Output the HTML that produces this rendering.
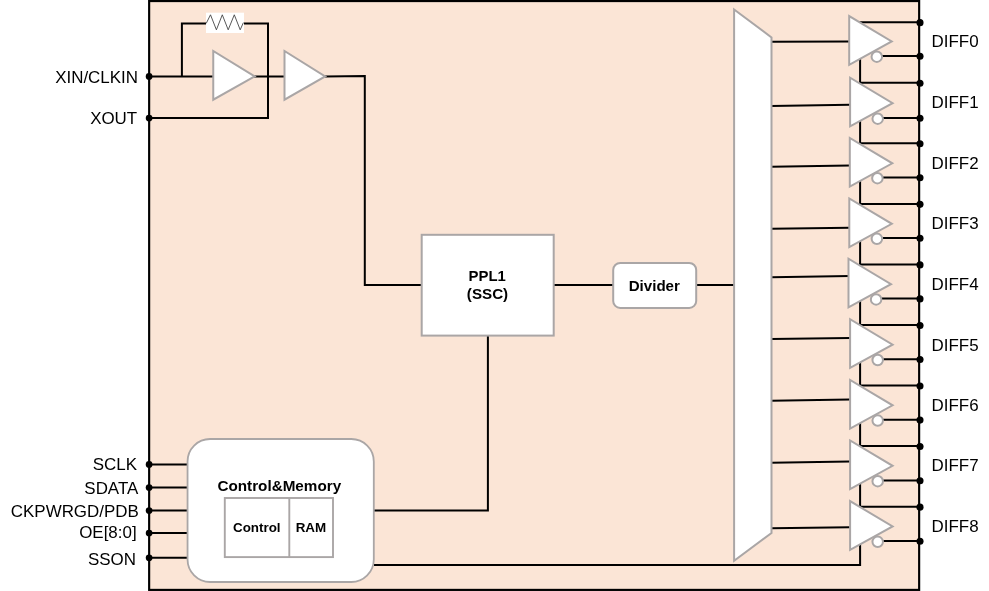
<!DOCTYPE html>
<html lang="en"><head><meta charset="utf-8"><title>Clock generator block diagram</title>
<style>
html,body{margin:0;padding:0;background:#fff;}
svg{display:block;}
text{font-family:"Liberation Sans",Arial,Helvetica,sans-serif;fill:#000;}
.w{fill:none;stroke:#000;stroke-width:2.0;stroke-linejoin:miter;stroke-linecap:butt;}
.g{fill:#fff;stroke:#aaa6a6;stroke-width:2.0;stroke-linejoin:miter;}
.d{fill:#000;}
.lb{font-size:16.95px;}
.b{font-weight:bold;font-size:14.8px;}
.bs{font-weight:bold;font-size:13.4px;}
.bt{font-weight:bold;font-size:15.25px;}
</style></head><body>
<svg width="989" height="591" viewBox="0 0 989 591">
<rect x="149.15" y="1.05" width="770.0" height="588.85" fill="#fbe5d6" stroke="#000" stroke-width="2.15"/>
<path class="w" d="M149 76.5H214"/>
<path class="w" d="M254 76.5H285"/>
<path class="w" d="M181.9 76.5V23.4H206.5"/>
<path class="w" d="M243.5 23.4H268V118.1H149"/>
<path class="w" d="M325 76.5L364.8 75.9V285H422"/>
<path class="w" d="M554 285H613"/>
<path class="w" d="M696 285H734"/>
<path class="w" d="M487.9 336V510.6H374"/>
<path class="w" d="M149 464.4H187.6"/>
<path class="w" d="M149 487.5H187.6"/>
<path class="w" d="M149 510.6H187.6"/>
<path class="w" d="M149 533.0H187.6"/>
<path class="w" d="M149 557.8H187.6"/>
<path class="w" d="M374 564.9H860.1V22.2"/>
<path class="w" d="M771 41.7L850 41.4"/>
<path class="w" d="M859.2 22.2H919"/>
<path class="w" d="M880 55.9H919"/>
<path class="w" d="M771 106.1L850 104.8"/>
<path class="w" d="M859.2 82.76H919"/>
<path class="w" d="M880 117.9H919"/>
<path class="w" d="M771 166.7L850 165.4"/>
<path class="w" d="M859.2 143.32H919"/>
<path class="w" d="M880 177.4H919"/>
<path class="w" d="M771 228.8L850 227.7"/>
<path class="w" d="M859.2 203.88H919"/>
<path class="w" d="M880 238.0H919"/>
<path class="w" d="M771 277.2L850 276.0"/>
<path class="w" d="M859.2 264.44H919"/>
<path class="w" d="M880 298.6H919"/>
<path class="w" d="M771 339.1L850 338.0"/>
<path class="w" d="M859.2 325.0H919"/>
<path class="w" d="M880 359.2H919"/>
<path class="w" d="M771 400.7L850 399.6"/>
<path class="w" d="M859.2 385.56H919"/>
<path class="w" d="M880 419.8H919"/>
<path class="w" d="M771 462.8L850 461.5"/>
<path class="w" d="M859.2 446.12H919"/>
<path class="w" d="M880 480.4H919"/>
<path class="w" d="M771 528.3L850 527.2"/>
<path class="w" d="M859.2 506.68H919"/>
<path class="w" d="M880 541.0H919"/>
<rect x="206" y="12.7" width="38" height="20.3" fill="#fff"/>
<path d="M206.2 23.4L210.5 14.8L216.4 29.8L222.3 14.8L228.2 29.8L234.3 14.8L240.2 29.8L243.4 22.6" fill="none" stroke="#3a3a3a" stroke-width="0.85" stroke-linejoin="round"/>
<path class="g" d="M213.25 51.0V99.7L254.7 76.4Z"/>
<path class="g" d="M284.5 51.0V99.7L325.2 76.4Z"/>
<rect class="g" x="421.7" y="234.8" width="132" height="100.8"/>
<rect class="g" x="613.2" y="263.0" width="83.0" height="44.9" rx="7"/>
<path class="g" d="M734.1 9.5L771.5 37.4V533L734.1 560.8Z"/>
<rect class="g" style="stroke-width:1.8" x="187.55" y="439.0" width="186.25" height="143.0" rx="22.5"/>
<rect class="g" style="stroke-width:1.9" x="224.8" y="498" width="108.2" height="59.1"/>
<path d="M289.3 498V557.1" fill="none" stroke="#aaa6a6" stroke-width="1.9"/>
<path class="g" d="M849.2 16.1V64.8L891.7 41.5Z"/>
<circle class="g" cx="876.8" cy="56.7" r="5.25"/>
<path class="g" d="M850.1 77.7V126.4L892.6 103.1Z"/>
<circle class="g" cx="877.7" cy="118.7" r="5.25"/>
<path class="g" d="M849.8 137.9V186.6L892.3 163.3Z"/>
<circle class="g" cx="877.4" cy="178.2" r="5.25"/>
<path class="g" d="M849.3 198.4V247.1L891.8 223.8Z"/>
<circle class="g" cx="876.9" cy="238.8" r="5.25"/>
<path class="g" d="M848.5 258.7V307.4L891.0 284.1Z"/>
<circle class="g" cx="876.1" cy="299.4" r="5.25"/>
<path class="g" d="M850.1 319.2V367.9L892.6 344.6Z"/>
<circle class="g" cx="877.7" cy="360.0" r="5.25"/>
<path class="g" d="M850.1 379.9V428.6L892.6 405.3Z"/>
<circle class="g" cx="877.7" cy="420.6" r="5.25"/>
<path class="g" d="M850.1 440.4V489.1L892.6 465.8Z"/>
<circle class="g" cx="877.7" cy="481.2" r="5.25"/>
<path class="g" d="M850.1 501.1V549.8L892.6 526.5Z"/>
<circle class="g" cx="877.7" cy="541.8" r="5.25"/>
<circle class="d" cx="149.1" cy="76.4" r="3.35"/>
<circle class="d" cx="149.1" cy="118.1" r="3.35"/>
<circle class="d" cx="149.1" cy="464.4" r="3.35"/>
<circle class="d" cx="149.1" cy="487.5" r="3.35"/>
<circle class="d" cx="149.1" cy="510.6" r="3.35"/>
<circle class="d" cx="149.1" cy="533.0" r="3.35"/>
<circle class="d" cx="149.1" cy="557.8" r="3.35"/>
<circle class="d" cx="920.0" cy="22.65" r="3.55"/>
<circle class="d" cx="920.0" cy="56.2" r="3.55"/>
<circle class="d" cx="920.0" cy="83.21" r="3.55"/>
<circle class="d" cx="920.0" cy="118.2" r="3.55"/>
<circle class="d" cx="920.0" cy="143.77" r="3.55"/>
<circle class="d" cx="920.0" cy="177.7" r="3.55"/>
<circle class="d" cx="920.0" cy="204.33" r="3.55"/>
<circle class="d" cx="920.0" cy="238.3" r="3.55"/>
<circle class="d" cx="920.0" cy="264.89" r="3.55"/>
<circle class="d" cx="920.0" cy="298.9" r="3.55"/>
<circle class="d" cx="920.0" cy="325.45" r="3.55"/>
<circle class="d" cx="920.0" cy="359.5" r="3.55"/>
<circle class="d" cx="920.0" cy="386.01" r="3.55"/>
<circle class="d" cx="920.0" cy="420.1" r="3.55"/>
<circle class="d" cx="920.0" cy="446.57" r="3.55"/>
<circle class="d" cx="920.0" cy="480.7" r="3.55"/>
<circle class="d" cx="920.0" cy="507.13" r="3.55"/>
<circle class="d" cx="920.0" cy="541.3" r="3.55"/>
<g style="filter:grayscale(1)">
<text class="lb" x="138.0" y="82.6" text-anchor="end">XIN/CLKIN</text>
<text class="lb" x="137.2" y="124.0" text-anchor="end">XOUT</text>
<text class="lb" x="137.0" y="469.9" text-anchor="end">SCLK</text>
<text class="lb" x="138.3" y="493.7" text-anchor="end">SDATA</text>
<text class="lb" x="138.8" y="516.9" text-anchor="end">CKPWRGD/PDB</text>
<text class="lb" x="136.6" y="537.6" text-anchor="end">OE[8:0]</text>
<text class="lb" x="136.0" y="564.9" text-anchor="end">SSON</text>
<text class="lb" x="931.5" y="46.6" text-anchor="start">DIFF0</text>
<text class="lb" x="931.5" y="108.19" text-anchor="start">DIFF1</text>
<text class="lb" x="931.5" y="168.68" text-anchor="start">DIFF2</text>
<text class="lb" x="931.5" y="228.77" text-anchor="start">DIFF3</text>
<text class="lb" x="931.5" y="289.86" text-anchor="start">DIFF4</text>
<text class="lb" x="931.5" y="350.75" text-anchor="start">DIFF5</text>
<text class="lb" x="931.5" y="410.84" text-anchor="start">DIFF6</text>
<text class="lb" x="931.5" y="471.43" text-anchor="start">DIFF7</text>
<text class="lb" x="931.5" y="532.32" text-anchor="start">DIFF8</text>
<text x="487.2" y="280.8" text-anchor="middle" style="font-weight:bold;font-size:14.9px">PPL1</text>
<text x="487.5" y="299.4" text-anchor="middle" style="font-weight:bold;font-size:15.2px">(SSC)</text>
<text x="654.3" y="290.6" text-anchor="middle" style="font-weight:bold;font-size:15.1px">Divider</text>
<text class="bt" x="279.3" y="490.8" text-anchor="middle">Control&amp;Memory</text>
<text class="bs" x="256.8" y="531.8" text-anchor="middle">Control</text>
<text class="bs" x="310.9" y="531.8" text-anchor="middle">RAM</text>
</g>
</svg></body></html>
